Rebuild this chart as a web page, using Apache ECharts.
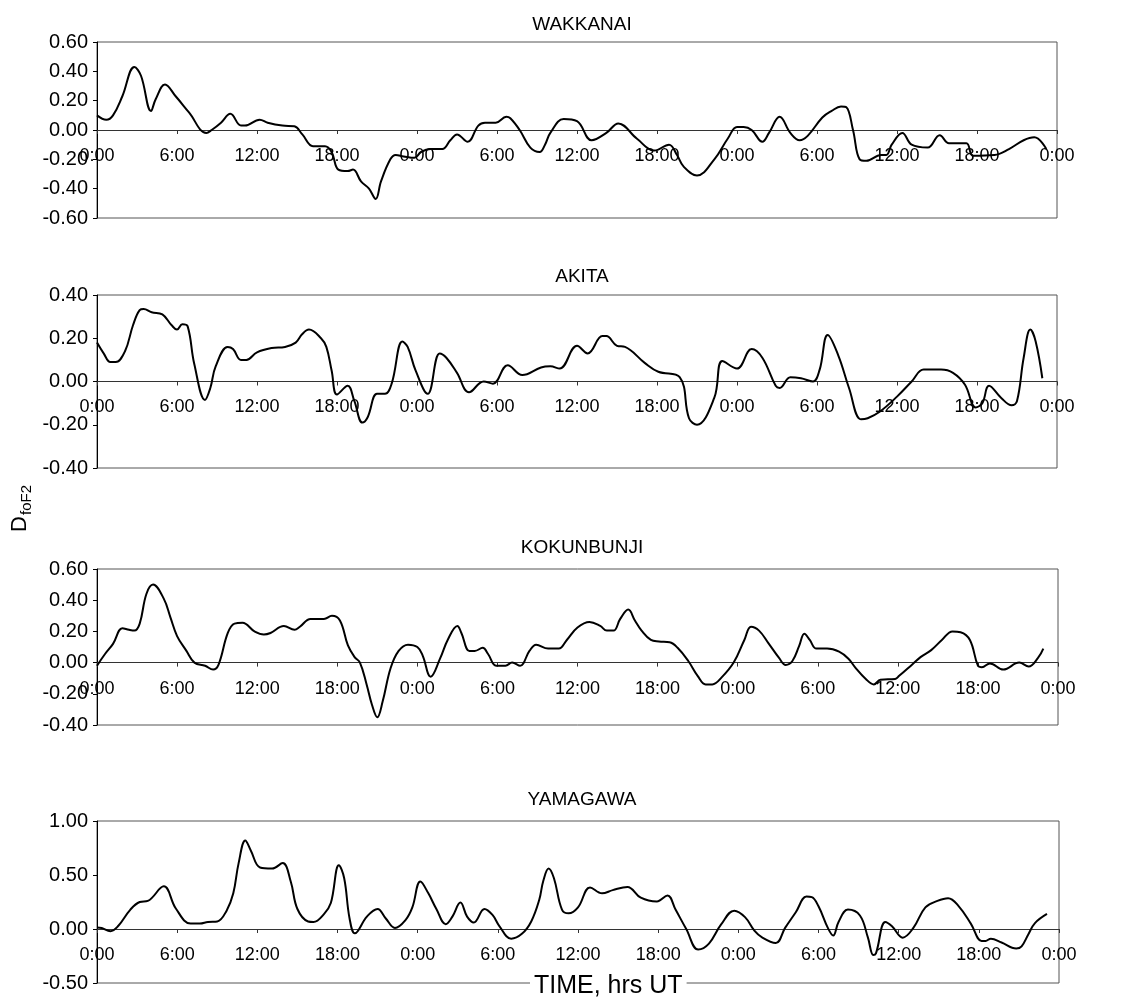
<!DOCTYPE html>
<html>
<head>
<meta charset="utf-8">
<script src="https://cdn.jsdelivr.net/npm/echarts@6/dist/echarts.min.js"></script>
<style>html,body{margin:0;padding:0;background:#fff}#c{width:1121px;height:1001px}</style>
</head>
<body>
<div id="c"></div>
<script>
const stations = ['WAKKANAI', 'AKITA', 'KOKUNBUNJI', 'YAMAGAWA'];
const xTickHours = [0, 6, 12, 18, 24, 30, 36, 42, 48, 54, 60, 66, 72];
const yRanges = [[-0.6, 0.6, 0.2], [-0.4, 0.4, 0.2], [-0.4, 0.6, 0.2], [-0.5, 1.0, 0.5]];

const wakkanai = [[0,0.10],[0.7,0.07],[1.2,0.10],[1.9,0.23],[2.8,0.43],[3.3,0.37],[4.05,0.13],[4.4,0.21],[5.1,0.31],[5.9,0.23],[6.9,0.12],[8.2,-0.02],[8.6,0.0],[9.3,0.05],[10.0,0.11],[10.8,0.03],[11.1,0.03],[12.2,0.07],[12.8,0.05],[13.9,0.03],[14.8,0.025],[15.4,-0.03],[16.2,-0.11],[17.1,-0.11],[17.6,-0.15],[18.1,-0.27],[18.8,-0.28],[19.2,-0.27],[19.8,-0.35],[20.4,-0.40],[20.9,-0.47],[21.3,-0.35],[22.0,-0.20],[22.4,-0.17],[23.0,-0.18],[23.8,-0.19],[24.3,-0.15],[25.0,-0.13],[25.9,-0.13],[26.5,-0.07],[27.0,-0.03],[27.8,-0.08],[28.6,0.03],[29.1,0.05],[29.9,0.05],[30.7,0.09],[31.0,0.08],[31.7,0.0],[32.5,-0.12],[33.2,-0.15],[33.6,-0.10],[34.0,-0.02],[35.0,0.075],[36.0,0.06],[37.1,-0.07],[38.2,-0.02],[39.1,0.045],[40.5,-0.06],[41.8,-0.14],[42.9,-0.10],[43.5,-0.17],[44.0,-0.25],[45.0,-0.31],[46.3,-0.20],[47.3,-0.06],[48.0,0.02],[48.5,0.02],[49.1,0.0],[49.9,-0.08],[50.4,-0.02],[51.2,0.09],[52.0,-0.02],[52.7,-0.07],[53.3,-0.04],[54.4,0.085],[55.1,0.13],[55.8,0.16],[56.2,0.155],[56.7,0.0],[57.2,-0.20],[57.7,-0.21],[58.8,-0.17],[59.2,-0.17],[59.6,-0.10],[60.4,-0.02],[61.1,-0.10],[62.3,-0.12],[63.2,-0.035],[63.9,-0.09],[65.2,-0.09],[65.7,-0.175],[67.3,-0.17],[68.4,-0.13],[69.5,-0.07],[70.3,-0.05],[71.2,-0.13]];

const akita = [[0,0.18],[0.5,0.13],[1.0,0.09],[1.4,0.09],[2.1,0.14],[2.7,0.26],[3.2,0.33],[3.5,0.335],[4.1,0.32],[4.9,0.31],[5.6,0.26],[6.0,0.24],[6.4,0.265],[6.8,0.255],[7.3,0.08],[8.1,-0.085],[8.5,-0.03],[8.9,0.07],[9.8,0.16],[10.2,0.15],[10.8,0.10],[11.2,0.10],[12.0,0.135],[13.1,0.155],[14.1,0.16],[14.9,0.18],[15.4,0.22],[15.9,0.24],[16.8,0.20],[17.2,0.16],[17.6,0.05],[18.0,-0.06],[18.8,-0.02],[19.3,-0.09],[19.9,-0.19],[20.3,-0.165],[21.0,-0.057],[21.6,-0.057],[22.1,-0.01],[22.9,0.185],[23.3,0.16],[23.9,0.05],[24.8,-0.057],[25.7,0.13],[26.2,0.11],[27.0,0.04],[27.9,-0.05],[29.0,0.0],[29.7,-0.01],[30.8,0.075],[31.9,0.03],[33.3,0.065],[34.0,0.07],[34.7,0.06],[36.0,0.165],[36.8,0.13],[37.9,0.21],[38.2,0.21],[39.0,0.165],[39.6,0.16],[41.1,0.085],[42.1,0.045],[43.7,0.02],[44.4,-0.17],[45.0,-0.20],[46.3,-0.075],[46.9,0.095],[48.0,0.06],[49.1,0.15],[49.9,0.11],[50.9,-0.02],[51.2,-0.03],[52.0,0.02],[52.8,0.015],[53.7,0.0],[54.2,0.055],[54.8,0.215],[55.6,0.12],[56.4,-0.03],[57.3,-0.175],[57.8,-0.17],[58.7,-0.14],[60.0,-0.07],[61.1,0.0],[62.0,0.055],[63.3,0.055],[64.2,0.04],[65.1,-0.015],[65.9,-0.12],[66.4,-0.10],[66.9,-0.02],[67.8,-0.075],[68.6,-0.11],[69.0,-0.09],[69.5,0.11],[70.0,0.24],[70.4,0.185],[70.9,0.015]];

const kokunbunji = [[0,-0.02],[0.6,0.055],[1.2,0.12],[1.9,0.22],[2.4,0.21],[2.8,0.205],[3.2,0.25],[3.7,0.44],[4.2,0.50],[5.0,0.41],[5.5,0.29],[6.0,0.17],[6.7,0.075],[7.3,0.0],[8.1,-0.02],[8.7,-0.045],[9.1,-0.015],[9.8,0.19],[10.3,0.25],[10.9,0.255],[11.8,0.20],[12.5,0.18],[13.0,0.19],[14.0,0.235],[14.8,0.21],[15.2,0.23],[16.0,0.28],[17.0,0.28],[17.6,0.30],[18.2,0.27],[18.8,0.11],[19.3,0.035],[19.7,0.0],[20.2,-0.14],[20.6,-0.27],[21.0,-0.35],[21.4,-0.25],[22.0,-0.035],[22.6,0.075],[23.3,0.115],[24.0,0.10],[24.4,0.045],[25.0,-0.09],[25.7,0.025],[26.3,0.15],[27.0,0.235],[27.3,0.19],[27.9,0.075],[28.3,0.075],[28.9,0.095],[29.3,0.055],[29.9,-0.02],[30.6,-0.02],[31.1,0.0],[31.7,-0.02],[32.4,0.075],[32.9,0.115],[33.8,0.09],[34.6,0.09],[35.2,0.145],[36.0,0.225],[36.9,0.26],[37.7,0.235],[38.2,0.205],[38.7,0.205],[39.2,0.28],[39.8,0.34],[40.3,0.27],[40.8,0.205],[41.5,0.145],[42.1,0.135],[42.9,0.13],[43.5,0.095],[44.3,0.01],[45.0,-0.085],[45.6,-0.14],[46.1,-0.14],[46.8,-0.095],[47.7,0.0],[48.5,0.145],[49.0,0.23],[49.6,0.205],[50.3,0.125],[51.1,0.03],[51.6,-0.015],[52.1,0.01],[52.6,0.105],[53.0,0.185],[53.4,0.145],[53.9,0.09],[54.7,0.09],[55.6,0.07],[56.3,0.025],[56.8,-0.03],[57.6,-0.105],[58.2,-0.14],[58.7,-0.11],[59.8,-0.105],[60.1,-0.085],[61.1,-0.01],[61.7,0.035],[62.5,0.08],[63.3,0.145],[64.1,0.20],[64.7,0.195],[65.4,0.145],[66.0,-0.02],[66.3,-0.03],[66.9,-0.005],[67.9,-0.045],[69.1,0.0],[69.8,-0.025],[70.5,0.03],[70.9,0.09]];

const yamagawa = [[0,0.015],[0.35,0.01],[1.0,-0.02],[1.6,0.03],[2.5,0.18],[3.2,0.25],[3.8,0.26],[5.0,0.395],[5.9,0.19],[7.0,0.05],[7.7,0.05],[8.3,0.065],[9.0,0.07],[9.7,0.17],[10.2,0.33],[10.6,0.61],[11.1,0.82],[11.5,0.73],[12.2,0.57],[13.1,0.56],[13.9,0.61],[14.5,0.44],[15.0,0.185],[15.8,0.07],[16.2,0.065],[17.0,0.14],[17.5,0.24],[18.1,0.59],[18.5,0.47],[18.9,0.10],[19.3,-0.04],[20.2,0.115],[21.0,0.185],[21.6,0.10],[22.3,0.01],[23.1,0.085],[23.6,0.20],[24.2,0.44],[24.8,0.33],[25.4,0.185],[26.1,0.045],[26.6,0.115],[27.2,0.245],[27.7,0.115],[28.2,0.06],[29.0,0.185],[29.6,0.13],[30.1,0.03],[31.0,-0.09],[31.8,-0.045],[32.5,0.07],[33.1,0.27],[33.4,0.445],[33.8,0.56],[34.2,0.47],[34.8,0.18],[35.3,0.145],[36.0,0.20],[36.9,0.385],[37.8,0.33],[38.6,0.36],[39.7,0.39],[40.7,0.29],[41.9,0.255],[42.7,0.31],[43.3,0.18],[44.1,0.0],[45.0,-0.19],[45.8,-0.135],[46.7,0.04],[47.7,0.17],[48.5,0.11],[49.2,-0.015],[49.8,-0.08],[50.8,-0.13],[51.5,0.01],[52.3,0.155],[53.1,0.30],[53.5,0.295],[54.0,0.21],[54.7,0.01],[55.1,-0.06],[55.5,0.065],[56.2,0.18],[57.1,0.125],[57.7,-0.08],[58.1,-0.24],[58.3,-0.225],[59.0,0.065],[59.5,0.025],[60.3,-0.08],[61.1,0.01],[62.0,0.20],[62.9,0.26],[63.7,0.285],[64.5,0.21],[65.4,0.05],[66.2,-0.11],[66.5,-0.11],[66.9,-0.09],[67.7,-0.125],[68.8,-0.18],[69.2,-0.16],[69.7,-0.05],[70.2,0.055],[71.1,0.14]];

const seriesData = [wakkanai, akita, kokunbunji, yamagawa];

// layout (pixels)
const grids = [
  {left: 97, right: 64, top: 42, height: 176},
  {left: 97, right: 64, top: 295, height: 173},
  {left: 97, right: 63, top: 569, height: 156},
  {left: 97, right: 62, top: 821, height: 162}
];
const titleTops = [10, 262, 533, 785];
const FONT = '"Liberation Sans", Arial, sans-serif';

const chart = echarts.init(document.getElementById('c'), null, {renderer: 'canvas'});
const option = {
  backgroundColor: '#fff',
  animation: false,
  title: stations.map((s, i) => ({
    text: s, left: 577, top: titleTops[i], textAlign: 'center',
    textStyle: {fontFamily: FONT, fontSize: 19, fontWeight: 'normal', color: '#000'}
  })),
  grid: grids.map(g => Object.assign({show: true, borderColor: '#555', borderWidth: 1, backgroundColor: 'transparent'}, g)),
  xAxis: grids.map((g, i) => {
    const r = yRanges[i];
    const zeroFromBottom = g.height * (0 - r[0]) / (r[1] - r[0]);
    return {
      type: 'value', gridIndex: i, min: 0, max: 72, interval: 6,
      position: 'bottom', offset: -zeroFromBottom,
      axisLine: {onZero: false, show: true, lineStyle: {color: '#333', width: 1}},
      axisTick: {show: true, length: 4, lineStyle: {color: '#333'}},
      axisLabel: {
        margin: 17, fontFamily: FONT, fontSize: 18, color: '#000', showMaxLabel: true,
        formatter: v => (xTickHours.indexOf(v) >= 0 ? (v % 24) + ':00' : '')
      },
      splitLine: {show: false}
    };
  }),
  yAxis: yRanges.map((r, i) => ({
    type: 'value', gridIndex: i, min: r[0], max: r[1], interval: r[2],
    axisLine: {show: true, lineStyle: {color: '#000', width: 1}},
    axisTick: {show: true, length: 4, lineStyle: {color: '#000'}},
    axisLabel: {margin: 9, fontFamily: FONT, fontSize: 20, color: '#000', formatter: v => v.toFixed(2)},
    splitLine: {show: false}
  })),
  series: seriesData.map((d, i) => ({
    type: 'line', xAxisIndex: i, yAxisIndex: i, data: d, smooth: 0.4,
    showSymbol: false, symbol: 'none',
    lineStyle: {color: '#000', width: 2}
  })),
  graphic: [
    {
      type: 'group', x: 31, y: 532, rotation: Math.PI / 2,
      children: [
        {type: 'text', x: 0, y: 0, style: {text: 'D', font: '22px ' + FONT, fill: '#000', textAlign: 'left', textVerticalAlign: 'bottom'}},
        {type: 'text', x: 17, y: 3, style: {text: 'foF2', font: '15px ' + FONT, fill: '#000', textAlign: 'left', textVerticalAlign: 'bottom'}}
      ]
    },
    {
      type: 'text', left: 530, top: 974,
      style: {text: 'TIME, hrs UT', font: '25px ' + FONT, fill: '#000', backgroundColor: '#fff', padding: [0, 4]}
    }
  ]
};
chart.setOption(option);
</script>
</body>
</html>
